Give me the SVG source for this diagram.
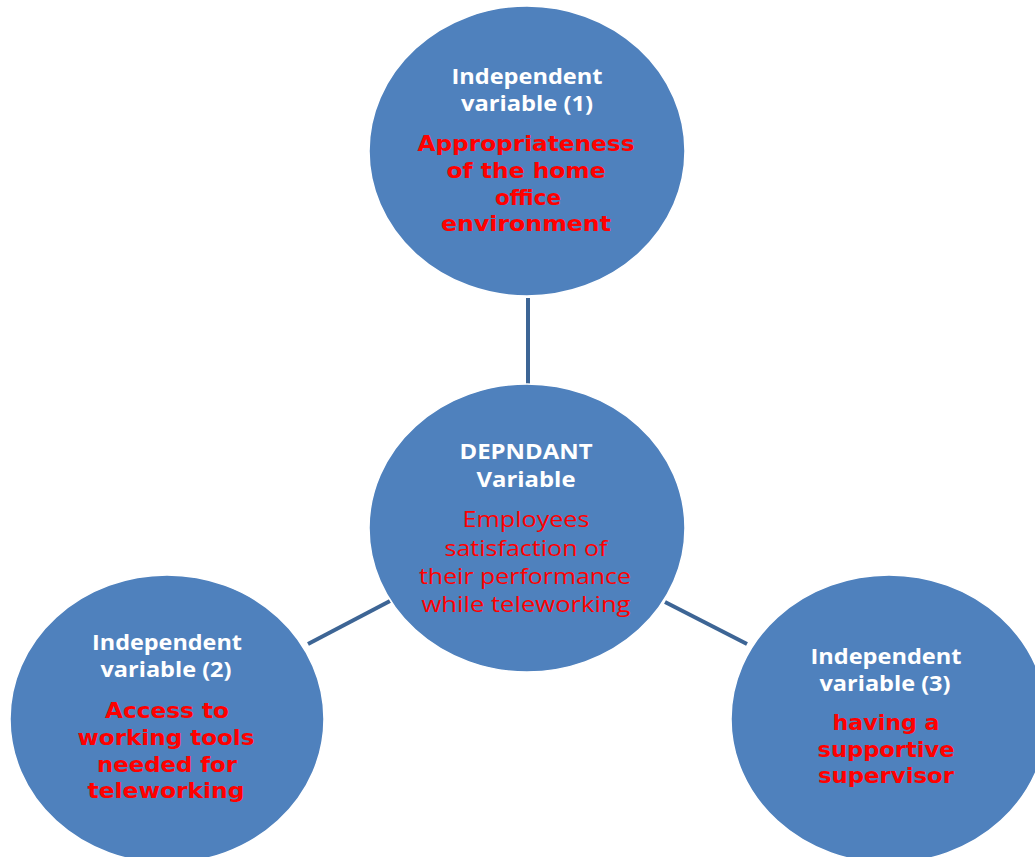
<svg xmlns="http://www.w3.org/2000/svg" width="1035" height="857" viewBox="0 0 1035 857">
<style>
.node{fill:#4F81BD;stroke:#ffffff;stroke-width:1.5}
.conn{stroke:#3D6595;stroke-width:4;fill:none}
.w{fill:#ffffff;font-family:"Open Sans","Liberation Sans",sans-serif;font-weight:bold;font-size:22px;text-anchor:middle}
.rb{fill:#FF0000;font-family:"DejaVu Sans","Liberation Sans",sans-serif;font-weight:bold;font-size:21px;text-anchor:middle}
.rr{fill:#FF0000;font-family:"Open Sans","Liberation Sans",sans-serif;font-size:21px;text-anchor:middle}
</style>
<rect width="1035" height="857" fill="#ffffff"/>
<g id="connectors">
<line class="conn" x1="528" y1="298" x2="528" y2="384"/>
<line class="conn" x1="308" y1="644" x2="390" y2="601"/>
<line class="conn" x1="665" y1="602" x2="747" y2="644"/>
</g>
<g id="node-iv1">
<ellipse class="node" cx="527" cy="151" rx="158" ry="145"/>
<text class="w" x="527" y="84" textLength="151" lengthAdjust="spacingAndGlyphs">Independent</text>
<text class="w" x="527" y="111" textLength="132" lengthAdjust="spacingAndGlyphs">variable (1)</text>
<text class="rb" x="526" y="151" textLength="217" lengthAdjust="spacingAndGlyphs">Appropriateness</text>
<text class="rb" x="526" y="178" textLength="159" lengthAdjust="spacingAndGlyphs">of the home</text>
<text class="rb" x="528" y="205" textLength="66" lengthAdjust="spacingAndGlyphs">office</text>
<text class="rb" x="526" y="231" textLength="170" lengthAdjust="spacingAndGlyphs">environment</text>
</g>
<g id="node-dv">
<ellipse class="node" cx="527" cy="528" rx="158" ry="144"/>
<text class="w" x="526" y="459" textLength="133" lengthAdjust="spacingAndGlyphs">DEPNDANT</text>
<text class="w" x="526" y="487" textLength="99" lengthAdjust="spacingAndGlyphs">Variable</text>
<text class="rr" x="526" y="527" textLength="127" lengthAdjust="spacingAndGlyphs">Employees</text>
<text class="rr" x="526" y="556" textLength="163" lengthAdjust="spacingAndGlyphs">satisfaction of</text>
<text class="rr" x="525" y="584" textLength="212" lengthAdjust="spacingAndGlyphs">their performance</text>
<text class="rr" x="526" y="612" textLength="209" lengthAdjust="spacingAndGlyphs">while teleworking</text>
</g>
<g id="node-iv2">
<ellipse class="node" cx="167" cy="719" rx="157" ry="144"/>
<text class="w" x="167" y="650" textLength="150" lengthAdjust="spacingAndGlyphs">Independent</text>
<text class="w" x="166" y="677" textLength="131" lengthAdjust="spacingAndGlyphs">variable (2)</text>
<text class="rb" x="167" y="718" textLength="124" lengthAdjust="spacingAndGlyphs">Access to</text>
<text class="rb" x="166" y="745" textLength="177" lengthAdjust="spacingAndGlyphs">working tools</text>
<text class="rb" x="167" y="772" textLength="140" lengthAdjust="spacingAndGlyphs">needed for</text>
<text class="rb" x="166" y="798" textLength="157" lengthAdjust="spacingAndGlyphs">teleworking</text>
</g>
<g id="node-iv3">
<ellipse class="node" cx="889" cy="719" rx="158" ry="144"/>
<text class="w" x="886" y="664" textLength="151" lengthAdjust="spacingAndGlyphs">Independent</text>
<text class="w" x="885" y="691" textLength="131" lengthAdjust="spacingAndGlyphs">variable (3)</text>
<text class="rb" x="886" y="730" textLength="107" lengthAdjust="spacingAndGlyphs">having a</text>
<text class="rb" x="886" y="757" textLength="137" lengthAdjust="spacingAndGlyphs">supportive</text>
<text class="rb" x="886" y="783" textLength="136" lengthAdjust="spacingAndGlyphs">supervisor</text>
</g>
</svg>
